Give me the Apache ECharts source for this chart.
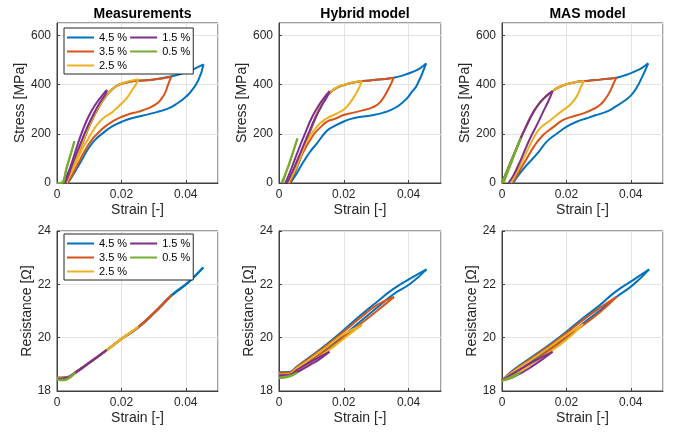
<!DOCTYPE html>
<html>
<head>
<meta charset="UTF-8">
<title>Stress and resistance loops</title>
<style>
  html, body { margin: 0; padding: 0; background: #fff; }
  #chart { width: 678px; height: 433px; }
</style>
</head>
<body>
<div id="chart"></div>
<script src="https://cdn.jsdelivr.net/npm/echarts@6/dist/echarts.min.js"></script>
<script>
// strain amplitudes (legend), MATLAB default colours
var amplitudes = ['4.5 %', '3.5 %', '2.5 %', '1.5 %', '0.5 %'];
var legendOrder = ['4.5 %', '1.5 %', '3.5 %', '0.5 %', '2.5 %'];
var panelTitles = ['Measurements', 'Hybrid model', 'MAS model'];

// ---- stress [strain, MPa], each loop = loading then unloading ----
var measStress45 = [[0.0022,0],[0.004,38],[0.006,100],[0.008,165],[0.010,230],[0.012,285],[0.014,330],[0.016,365],[0.018,390],[0.020,403],[0.023,412],[0.026,416],[0.030,420],[0.035,432],[0.040,450],[0.0455,482],
  [0.0439,418],[0.0415,370],[0.040,350],[0.0375,325],[0.0346,303],[0.031,288],[0.0265,273],[0.0232,263],[0.020,248],[0.017,229],[0.014,200],[0.0118,175],[0.0095,135],[0.0077,93],[0.006,55],[0.004,12],[0.0033,0]];
var measStress35 = [[0.0025,0],[0.004,38],[0.006,100],[0.008,165],[0.010,230],[0.012,285],[0.014,330],[0.016,365],[0.018,390],[0.020,403],[0.023,412],[0.026,416],[0.030,420],[0.0355,432],
  [0.0345,400],[0.0335,364],[0.032,335],[0.0304,317],[0.028,302],[0.0253,290],[0.0225,280],[0.0201,269],[0.0175,252],[0.0149,229],[0.0125,200],[0.0108,175],[0.0085,128],[0.0066,80],[0.005,40],[0.0035,5],[0.003,0]];
var measStress25 = [[0.0022,0],[0.004,40],[0.006,102],[0.008,168],[0.010,232],[0.012,287],[0.014,332],[0.016,366],[0.018,390],[0.020,404],[0.0225,414],[0.0253,422],
  [0.0245,400],[0.0237,385],[0.0216,344],[0.019,310],[0.0169,285],[0.0149,269],[0.013,245],[0.0113,215],[0.0095,175],[0.0077,134],[0.006,85],[0.004,30],[0.003,0]];
var measStress15 = [[0.002,0],[0.004,60],[0.006,140],[0.008,215],[0.010,275],[0.012,320],[0.014,355],[0.0155,378],
  [0.015,360],[0.013,320],[0.011,270],[0.009,215],[0.007,150],[0.005,85],[0.0035,30],[0.0025,0]];
var measStress05 = [[0,0],[0.0015,0],[0.003,60],[0.0054,170],[0.005,150],[0.003,65],[0.0015,2],[0.0005,0]];

var hybStress45 = [[0.0035,0],[0.005,45],[0.0075,132],[0.009,188],[0.0106,243],[0.012,288],[0.0137,328],[0.0158,367],[0.018,387],[0.020,398],[0.023,408],[0.026,414],[0.030,419],[0.0354,428],[0.038,436],[0.041,450],[0.0435,466],[0.0454,486],
  [0.0426,398],[0.041,370],[0.0395,344],[0.037,315],[0.0344,296],[0.032,285],[0.0292,276],[0.026,270],[0.023,263],[0.020,250],[0.0168,229],[0.0148,212],[0.0117,161],[0.0095,125],[0.0076,87],[0.0055,40],[0.0035,0]];
var hybStress35 = [[0.003,0],[0.005,50],[0.0075,135],[0.009,190],[0.0106,245],[0.012,290],[0.0137,330],[0.0158,368],[0.018,388],[0.020,398],[0.023,408],[0.026,414],[0.030,419],[0.0354,428],
  [0.0339,385],[0.0313,330],[0.029,308],[0.0261,296],[0.023,286],[0.0199,276],[0.0175,262],[0.0148,249],[0.0127,225],[0.0106,195],[0.007,114],[0.0039,19],[0.0033,0]];
var hybStress25 = [[0.0028,0],[0.005,52],[0.0075,138],[0.009,192],[0.0106,247],[0.012,291],[0.0137,331],[0.0158,369],[0.018,389],[0.020,399],[0.023,409],[0.0256,414],
  [0.0241,371],[0.0225,337],[0.0204,303],[0.0179,283],[0.0148,263],[0.0117,229],[0.0086,168],[0.0055,87],[0.0029,0]];
var hybStress15 = [[0.002,0],[0.004,65],[0.006,135],[0.008,200],[0.010,262],[0.012,310],[0.014,348],[0.0156,373],
  [0.0148,350],[0.013,310],[0.011,258],[0.009,198],[0.007,135],[0.005,72],[0.003,15],[0.0024,0]];
var hybStress05 = [[0.0008,0],[0.003,75],[0.0057,181],[0.0053,165],[0.0035,90],[0.0015,15],[0.0012,0]];

var masStress45 = [[0,0],[0.002,62],[0.004,125],[0.0058,181],[0.0075,230],[0.0095,282],[0.0115,322],[0.0135,350],[0.0157,373],[0.0175,388],[0.020,401],[0.023,410],[0.0255,414],[0.028,417],[0.031,421],[0.0355,428],[0.038,437],[0.041,452],[0.0435,468],[0.0454,486],
  [0.0435,430],[0.0417,385],[0.040,355],[0.0376,330],[0.035,308],[0.0325,290],[0.029,275],[0.0263,263],[0.023,248],[0.0201,229],[0.017,200],[0.0139,168],[0.011,120],[0.0077,73],[0.005,30],[0.0035,0]];
var masStress35 = [[0,0],[0.002,62],[0.004,125],[0.0058,181],[0.0075,230],[0.0095,282],[0.0115,322],[0.0135,350],[0.0157,373],[0.0175,388],[0.020,401],[0.023,410],[0.0255,414],[0.028,417],[0.031,421],[0.0355,428],
  [0.0345,400],[0.0335,371],[0.032,340],[0.0304,317],[0.028,298],[0.0252,283],[0.022,270],[0.019,256],[0.016,228],[0.0128,195],[0.010,150],[0.0077,100],[0.005,40],[0.0032,0]];
var masStress25 = [[0,0],[0.002,62],[0.004,125],[0.0058,181],[0.0075,230],[0.0095,282],[0.0115,322],[0.0135,350],[0.0157,373],[0.0175,388],[0.020,401],[0.023,410],[0.0255,414],
  [0.0245,390],[0.0237,364],[0.0225,338],[0.0211,317],[0.019,296],[0.017,276],[0.0145,250],[0.0118,222],[0.0095,175],[0.0077,127],[0.005,55],[0.0028,0]];
var masStress15 = [[0,0],[0.002,62],[0.004,125],[0.0058,181],[0.0075,230],[0.0095,282],[0.0115,322],[0.0135,350],[0.0157,373],
  [0.0145,335],[0.0128,290],[0.011,240],[0.0087,181],[0.007,130],[0.0051,73],[0.0035,30],[0.002,0]];
var masStress05 = [[0,0],[0.002,62],[0.004,125],[0.0058,181],[0.0055,170],[0.003,85],[0.0005,0]];

// ---- resistance [strain, Ohm] ----
var measRes45 = [[0,18.5],[0.003,18.52],[0.0056,18.69],[0.0097,19.04],[0.0154,19.54],[0.0201,19.97],[0.0253,20.41],[0.0304,20.97],[0.0356,21.6],[0.0408,22.09],[0.0454,22.63],
  [0.0408,22.07],[0.0356,21.57],[0.0304,20.94],[0.0253,20.38],[0.0201,19.95],[0.0154,19.52],[0.0097,19.02],[0.0056,18.67],[0.003,18.5],[0,18.48]];
var measRes35 = [[0,18.5],[0.003,18.52],[0.0056,18.69],[0.0097,19.04],[0.0154,19.54],[0.0201,19.97],[0.0253,20.41],[0.0304,20.97],[0.0356,21.6],
  [0.0304,20.95],[0.0253,20.39],[0.0201,19.95],[0.0154,19.52],[0.0097,19.02],[0.0056,18.67],[0.003,18.5],[0,18.5]];
var measRes25 = [[0,18.48],[0.003,18.5],[0.0056,18.69],[0.0097,19.04],[0.0154,19.54],[0.0201,19.97],[0.0253,20.41],
  [0.0201,19.95],[0.0154,19.52],[0.0097,19.02],[0.0056,18.67],[0.003,18.48],[0,18.46]];
var measRes15 = [[0,18.46],[0.003,18.5],[0.0056,18.69],[0.0097,19.04],[0.0154,19.54],
  [0.0097,19.02],[0.0056,18.67],[0.003,18.47],[0,18.45]];
var measRes05 = [[0,18.42],[0.002,18.4],[0.004,18.52],[0.0056,18.69],[0.004,18.5],[0.002,18.42],[0,18.44]];

var hybRes45 = [[0,18.7],[0.003,18.7],[0.0055,18.92],[0.0096,19.28],[0.015,19.78],[0.0199,20.28],[0.025,20.82],[0.0302,21.34],[0.035,21.8],[0.0406,22.22],[0.0455,22.56],
  [0.0406,22.03],[0.035,21.6],[0.0302,21.12],[0.025,20.6],[0.0199,20.08],[0.015,19.6],[0.0096,19.12],[0.0055,18.8],[0.003,18.7],[0,18.68]];
var hybRes35 = [[0,18.68],[0.003,18.68],[0.0055,18.9],[0.0096,19.25],[0.015,19.74],[0.0199,20.22],[0.025,20.74],[0.0302,21.22],[0.0355,21.53],
  [0.0302,21.0],[0.025,20.5],[0.0199,20.02],[0.015,19.56],[0.0096,19.1],[0.0055,18.78],[0.003,18.66],[0,18.65]];
var hybRes25 = [[0,18.62],[0.003,18.64],[0.0055,18.86],[0.0096,19.2],[0.015,19.68],[0.0199,20.12],[0.0256,20.47],
  [0.0225,20.2],[0.0199,19.95],[0.015,19.5],[0.0096,19.05],[0.0055,18.74],[0.003,18.62],[0,18.6]];
var hybRes15 = [[0,18.58],[0.003,18.6],[0.0055,18.78],[0.0096,19.08],[0.0156,19.47],
  [0.012,19.15],[0.0096,18.98],[0.0055,18.7],[0.003,18.6],[0,18.57]];
var hybRes05 = [[0,18.5],[0.003,18.56],[0.0056,18.69],[0.003,18.53],[0,18.48]];

var masRes45 = [[0,18.4],[0.0035,18.79],[0.0097,19.31],[0.015,19.76],[0.02,20.22],[0.025,20.72],[0.0304,21.22],[0.035,21.7],[0.0407,22.16],[0.0457,22.56],
  [0.0407,21.98],[0.035,21.48],[0.0304,21.02],[0.025,20.52],[0.02,20.03],[0.015,19.6],[0.0097,19.15],[0.0035,18.6],[0,18.4]];
var masRes35 = [[0,18.4],[0.0035,18.75],[0.0097,19.27],[0.015,19.72],[0.02,20.17],[0.025,20.65],[0.0304,21.12],[0.0356,21.53],
  [0.0304,20.95],[0.025,20.45],[0.02,20.0],[0.015,19.55],[0.0097,19.1],[0.0035,18.6],[0,18.4]];
var masRes25 = [[0,18.4],[0.0035,18.72],[0.0097,19.22],[0.015,19.66],[0.02,20.1],[0.0252,20.51],
  [0.02,19.92],[0.015,19.48],[0.0097,19.05],[0.0035,18.58],[0,18.4]];
var masRes15 = [[0,18.4],[0.0035,18.66],[0.0097,19.1],[0.0157,19.47],
  [0.0097,18.95],[0.0035,18.52],[0,18.4]];
var masRes05 = [[0,18.38],[0.0056,18.69],[0.0035,18.52],[0,18.38]];

var panels = [
  [measStress45, measStress35, measStress25, measStress15, measStress05],
  [hybStress45, hybStress35, hybStress25, hybStress15, hybStress05],
  [masStress45, masStress35, masStress25, masStress15, masStress05],
  [measRes45, measRes35, measRes25, measRes15, measRes05],
  [hybRes45, hybRes35, hybRes25, hybRes15, hybRes05],
  [masRes45, masRes35, masRes25, masRes15, masRes05]
];

var colors = ['#0072BD', '#D95319', '#EDB120', '#7E2F8E', '#77AC30'];
var font = "'Liberation Sans', Arial, sans-serif";
var axisColor = '#404040';

var lefts = [57, 279, 502];
var widths = [161, 162, 161];
var tops = [23, 231];

var grids = [], xAxes = [], yAxes = [], series = [], titles = [];

for (var p = 0; p < 6; p++) {
  var col = p % 3, row = Math.floor(p / 3);
  grids.push({
    left: lefts[col], top: tops[row], width: widths[col], height: 160,
    show: true, borderColor: axisColor, borderWidth: 1, backgroundColor: '#fff'
  });
  xAxes.push({
    gridIndex: p, type: 'value', min: 0, max: 0.05, interval: 0.02,
    name: 'Strain [-]', nameLocation: 'middle', nameGap: 20,
    nameTextStyle: { fontFamily: font, fontSize: 14, color: '#262626' },
    axisLine: { show: true, lineStyle: { color: axisColor } },
    axisTick: { show: true, inside: true, length: 3, lineStyle: { color: axisColor } },
    axisLabel: {
      fontFamily: font, fontSize: 12, color: '#262626', margin: 6, showMaxLabel: false,
      formatter: function (v) { return v === 0 ? '0' : v.toFixed(2); }
    },
    splitLine: { show: true, lineStyle: { color: '#e3e3e3' } }
  });
  var stress = row === 0;
  yAxes.push({
    gridIndex: p, type: 'value',
    min: stress ? 0 : 18, max: stress ? 650 : 24, interval: stress ? 200 : 2,
    name: stress ? 'Stress [MPa]' : 'Resistance [\u03A9]',
    nameLocation: 'middle', nameGap: stress ? 28 : 23,
    nameTextStyle: { fontFamily: font, fontSize: 14, color: '#262626' },
    axisLine: { show: true, lineStyle: { color: axisColor } },
    axisTick: { show: true, inside: true, length: 3, lineStyle: { color: axisColor } },
    axisLabel: { fontFamily: font, fontSize: 12, color: '#262626', margin: 6, showMaxLabel: !stress },
    splitLine: { show: true, lineStyle: { color: '#e3e3e3' } }
  });
  for (var j = 0; j < amplitudes.length; j++) {
    var loop = panels[p][j];
    var k = 0;
    for (var i = 1; i < loop.length; i++) if (loop[i][0] > loop[k][0]) k = i;
    [loop.slice(0, k + 1), loop.slice(k)].forEach(function (part) {
      series.push({
        name: amplitudes[j], type: 'line', xAxisIndex: p, yAxisIndex: p,
        data: part, symbol: 'none', showSymbol: false, smooth: 0.5,
        lineStyle: { width: 2, color: colors[j] },
        itemStyle: { color: colors[j] },
        emphasis: { disabled: true }
      });
    });
  }
}

for (var c = 0; c < 3; c++) {
  titles.push({
    text: panelTitles[c], left: lefts[c] + widths[c] / 2, top: 2, textAlign: 'center',
    textStyle: { fontFamily: font, fontSize: 14, fontWeight: 'bold', color: '#000' }
  });
}

function makeLegend(top) {
  return {
    data: legendOrder, left: 64, top: top, width: 140, orient: 'horizontal',
    icon: 'rect', itemWidth: 27, itemHeight: 2, itemGap: 3, padding: [4, 3, 3, 3],
    selectedMode: false,
    borderColor: '#262626', borderWidth: 1, backgroundColor: '#fff',
    textStyle: { fontFamily: font, fontSize: 11, color: '#000', lineHeight: 11 }
  };
}

var chart = echarts.init(document.getElementById('chart'), null, { renderer: 'canvas' });
chart.setOption({
  animation: false,
  backgroundColor: '#fff',
  title: titles,
  legend: [makeLegend(28), makeLegend(234)],
  grid: grids,
  xAxis: xAxes,
  yAxis: yAxes,
  series: series
});
</script>
</body>
</html>
